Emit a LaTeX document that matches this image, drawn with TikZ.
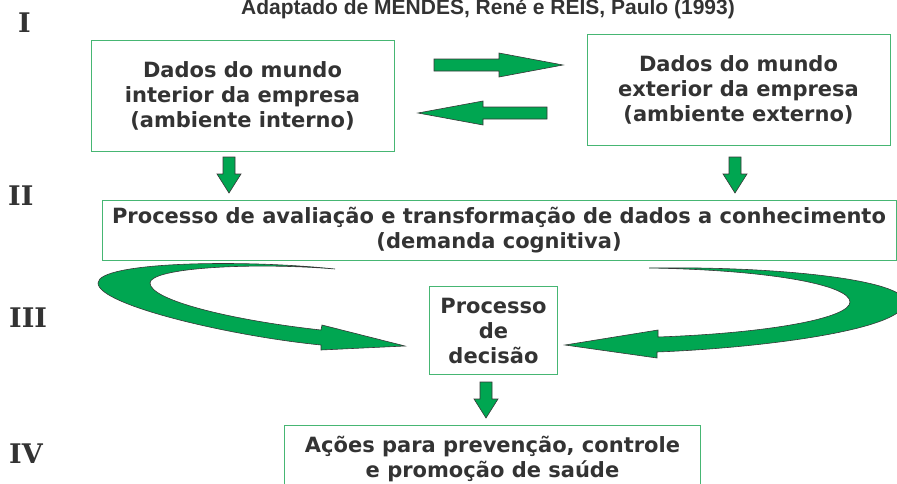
\documentclass[tikz,border=0pt]{standalone}
\usepackage{fontspec}
\setmainfont{DejaVu Sans}
\newfontfamily\titlefont{Liberation Sans}
\newfontfamily\numfont{DejaVu Serif}
\definecolor{boxgreen}{RGB}{70,182,115}
\definecolor{arrowgreen}{RGB}{0,166,81}
\definecolor{edgegray}{RGB}{55,55,55}
\definecolor{textgray}{RGB}{51,51,51}
\begin{document}
\begin{tikzpicture}
[x=1pt,y=-1pt,
 boxdecorate/.style={shape=rectangle,draw=boxgreen,line width=1pt,inner sep=0pt,align=center,text=textgray,font=\fontsize{21}{25}\selectfont\bfseries},%
 arrowdecorate/.style={fill=arrowgreen,draw=edgegray,line width=0.6pt,line join=miter},%
 numdecorate/.style={anchor=base west,inner sep=0pt,text=textgray,font=\numfont\fontsize{27}{30}\selectfont\bfseries}]
\useasboundingbox (0,0) rectangle (897,483);
%% title
\node (fonte) at (488,14) [anchor=base,inner sep=0pt,text=textgray,font=\titlefont\bfseries\fontsize{21}{24}\selectfont] {Adaptado de MENDES, René e REIS, Paulo (1993)};
%% level numbers
\foreach \nivel/\x/\y in {I/18/32, II/8/205, III/9/327, IV/9/463}
{
  \node (nivel\nivel) at (\x,\y) [numdecorate] {\nivel};
}
%% boxes
\node (interno) at (242.5,95.5) [boxdecorate,minimum width=303,minimum height=111] {Dados do mundo\\interior da empresa\\(ambiente interno)};
\node (externo) at (738.5,89.5) [boxdecorate,minimum width=303,minimum height=111] {Dados do mundo\\exterior da empresa\\(ambiente externo)};
\node (avaliacao) at (499,230) [boxdecorate,minimum width=794,minimum height=60] {Processo de avaliação e transformação de dados a conhecimento\\(demanda cognitiva)};
\node (decisao) at (493.5,330.5) [boxdecorate,minimum width=128,minimum height=88] {Processo\\de\\decisão};
\node (acoes) at (492.5,459) [boxdecorate,minimum width=416,minimum height=68] {Ações para prevenção, controle\\e promoção de saúde};
%% exchange arrows
\draw[arrowdecorate] (434,59) -- (499,59) -- (499,53) -- (563,65) -- (499,77) -- (499,71) -- (434,71) -- cycle;
\draw[arrowdecorate] (547,107) -- (483,107) -- (483,101) -- (418,113) -- (483,125) -- (483,119) -- (547,119) -- cycle;
%% downward arrows
\foreach \x/\y in {229/157, 735/157, 486/382}
{
  \draw[arrowdecorate] (\x-6,\y) -- (\x+6,\y) -- (\x+6,\y+17) -- (\x+12,\y+17)
    -- (\x,\y+36) -- (\x-12,\y+17) -- (\x-6,\y+17) -- cycle;
}
%% curved arrows into the decision
\draw[arrowdecorate] (335,269) .. controls (240,259) and (98,262) .. (98,283)
  .. controls (98,305) and (230,336) .. (321,345) -- (321,350) -- (405,346)
  -- (322,325) -- (321,330) .. controls (230,320) and (150,300) .. (150,283)
  .. controls (150,268) and (250,262) .. (335,269) -- cycle;
\draw[arrowdecorate] (649,268) .. controls (780,266) and (905,280) .. (905,302)
  .. controls (905,330) and (760,348) .. (657,352) -- (657,358) -- (565,345)
  -- (658,330) -- (658,337) .. controls (770,333) and (850,318) .. (850,302)
  .. controls (850,285) and (770,270) .. (649,268) -- cycle;
\end{tikzpicture}
\end{document}
